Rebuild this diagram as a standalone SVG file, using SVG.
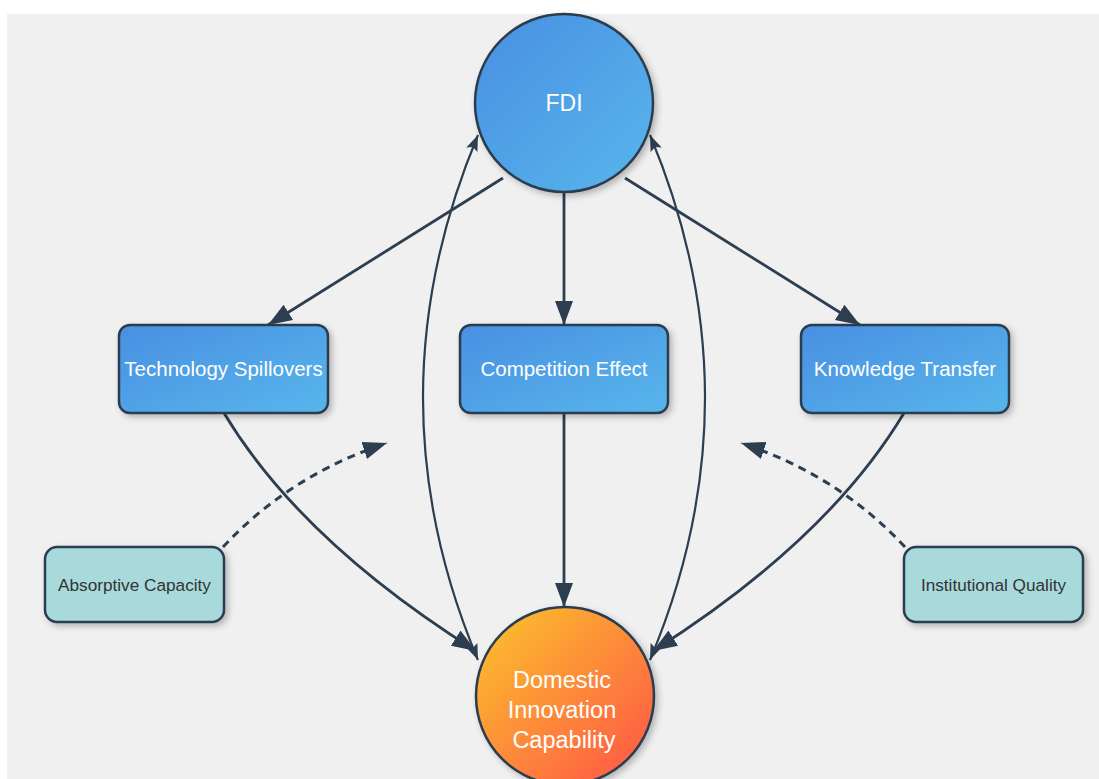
<svg xmlns="http://www.w3.org/2000/svg" width="1099" height="779" viewBox="0 0 1099 779">
  <defs>
    <style>
      .conn { fill: none; stroke: #2c3e50; stroke-width: 2.8; }
      .fb { fill: none; stroke: #2c3e50; stroke-width: 2.2; }
      .dash { fill: none; stroke: #2c3e50; stroke-width: 3; stroke-dasharray: 8 6; }
      .blue { fill: url(#gBlue); stroke: #2c3e50; stroke-width: 2.5; filter: url(#shadow); }
      .orange { fill: url(#gOrange); stroke: #2c3e50; stroke-width: 2.5; filter: url(#shadow); }
      .teal { fill: #a8dadc; stroke: #2c3e50; stroke-width: 2.5; filter: url(#shadow); }
      .wt { fill: #ffffff; font-family: "Liberation Sans", Arial, sans-serif; text-anchor: middle; }
      .dt { fill: #333333; font-family: "Liberation Sans", Arial, sans-serif; text-anchor: middle; font-size: 17.2px; }
    </style>
    <linearGradient id="gBlue" x1="0" y1="0" x2="1" y2="1">
      <stop offset="0" stop-color="#4a8fe2"/>
      <stop offset="1" stop-color="#57b6eb"/>
    </linearGradient>
    <linearGradient id="gOrange" x1="0" y1="0" x2="1" y2="1">
      <stop offset="0" stop-color="#fbc62a"/>
      <stop offset="1" stop-color="#ff5148"/>
    </linearGradient>
    <filter id="shadow" x="-20%" y="-20%" width="140%" height="140%">
      <feDropShadow dx="3" dy="3" stdDeviation="3" flood-color="#000000" flood-opacity="0.25"/>
    </filter>
    <marker id="arrow" markerUnits="userSpaceOnUse" markerWidth="26" markerHeight="20" refX="24" refY="10" orient="auto">
      <path d="M0,1 L24,10 L0,19 Z" fill="#2c3e50"/>
    </marker>
    <marker id="arrowSm" markerUnits="userSpaceOnUse" markerWidth="18" markerHeight="14" refX="16" refY="7" orient="auto-start-reverse">
      <path d="M0,1 L16,7 L0,13 L3,7 Z" fill="#2c3e50"/>
    </marker>
  </defs>

  <rect x="0" y="0" width="1099" height="779" fill="#ffffff"/>
  <rect x="7" y="14" width="1092" height="765" fill="#f0f0f0"/>

  <g id="connectors">
    <path class="conn" d="M503,178 L268,325" marker-end="url(#arrow)"/>
    <path class="conn" d="M564,192 L564,325" marker-end="url(#arrow)"/>
    <path class="conn" d="M625,178 L860,325" marker-end="url(#arrow)"/>
    <path class="conn" d="M224,413 Q300,540 476,651" marker-end="url(#arrow)"/>
    <path class="conn" d="M564,413 L564,607" marker-end="url(#arrow)"/>
    <path class="conn" d="M904,413 Q828,540 653,651" marker-end="url(#arrow)"/>
    <path class="fb" d="M478,660 Q368,398 478,135" marker-start="url(#arrowSm)" marker-end="url(#arrowSm)"/>
    <path class="fb" d="M650,660 Q760,398 650,135" marker-start="url(#arrowSm)" marker-end="url(#arrowSm)"/>
    <path class="dash" d="M223,547 Q290,475 387,443" marker-end="url(#arrow)"/>
    <path class="dash" d="M905,547 Q838,475 741,443" marker-end="url(#arrow)"/>
  </g>

  <g id="fdi">
    <circle class="blue" cx="564" cy="103" r="89"/>
    <text class="wt" x="564" y="111" font-size="23">FDI</text>
  </g>
  <g id="tech-spillovers">
    <rect class="blue" x="119" y="325" width="209" height="88" rx="11"/>
    <text class="wt" x="223.5" y="376" font-size="20.5">Technology Spillovers</text>
  </g>
  <g id="competition-effect">
    <rect class="blue" x="460" y="325" width="208" height="88" rx="11"/>
    <text class="wt" x="564" y="376" font-size="20.5">Competition Effect</text>
  </g>
  <g id="knowledge-transfer">
    <rect class="blue" x="801" y="325" width="208" height="88" rx="11"/>
    <text class="wt" x="905" y="376" font-size="20.5">Knowledge Transfer</text>
  </g>
  <g id="absorptive-capacity">
    <rect class="teal" x="45" y="547" width="179" height="75" rx="12"/>
    <text class="dt" x="134.5" y="591">Absorptive Capacity</text>
  </g>
  <g id="institutional-quality">
    <rect class="teal" x="904" y="547" width="179" height="75" rx="12"/>
    <text class="dt" x="993.5" y="591">Institutional Quality</text>
  </g>
  <g id="domestic-innovation">
    <circle class="orange" cx="565" cy="696" r="89"/>
    <text class="wt" font-size="23.5"><tspan x="562" y="688">Domestic</tspan><tspan x="562" y="718">Innovation</tspan><tspan x="564" y="748">Capability</tspan></text>
  </g>
</svg>
